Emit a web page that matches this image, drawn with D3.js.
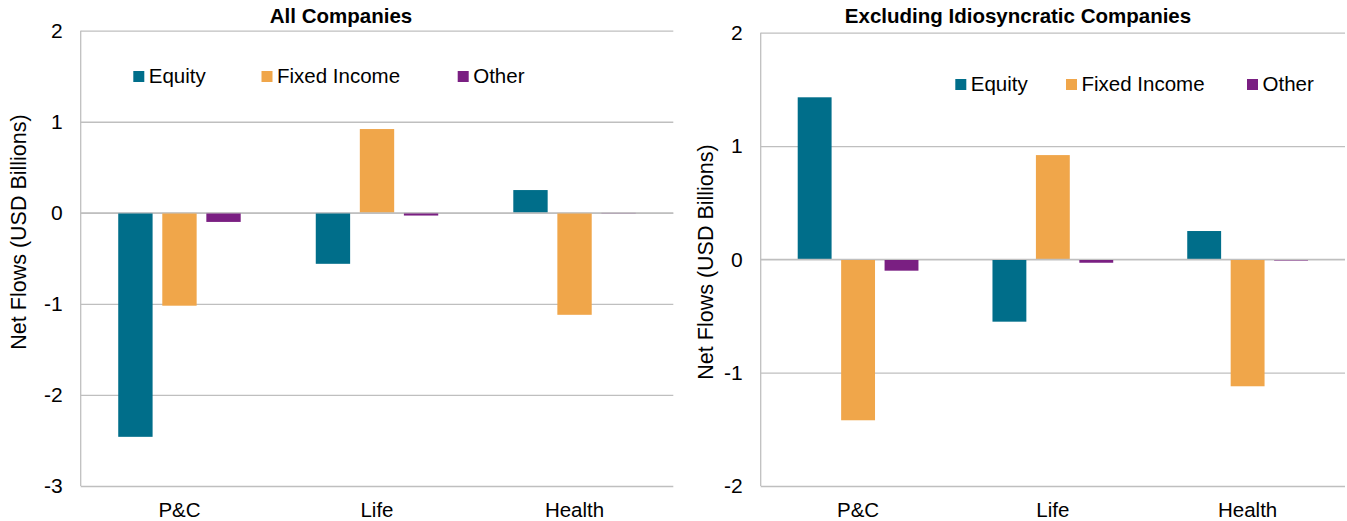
<!DOCTYPE html>
<html>
<head>
<meta charset="utf-8">
<script src="https://cdn.jsdelivr.net/npm/d3@7"></script>
<style>
  html, body { margin: 0; padding: 0; background: #ffffff; }
  svg { display: block; }
  text { font-family: "Liberation Sans", Arial, sans-serif; fill: #000; }
</style>
</head>
<body>
<svg id="chart" width="1347" height="521"></svg>
<script>
// ---- Data ----
const categories = ["P&C", "Life", "Health"];
const seriesNames = ["Equity", "Fixed Income", "Other"];
const seriesColors = ["#006E8A", "#F0A64A", "#7A1F82"];

const allEquity = [-2.46, -0.56, 0.25];
const allFixedIncome = [-1.02, 0.92, -1.12];
const allOther = [-0.10, -0.03, -0.005];

const exEquity = [1.43, -0.55, 0.25];
const exFixedIncome = [-1.42, 0.92, -1.12];
const exOther = [-0.10, -0.03, -0.01];

const leftTicks = [-3, -2, -1, 0, 1, 2];
const rightTicks = [-2, -1, 0, 1, 2];

const leftTitle = "All Companies";
const rightTitle = "Excluding Idiosyncratic Companies";
const yAxisTitle = "Net Flows (USD Billions)";

// ---- Layout ----
const panels = [
  {
    title: leftTitle, titleX: 341, series: [allEquity, allFixedIncome, allOther],
    ticks: leftTicks, x0: 80.7, x1: 673.3, yTop: 30.7, yBot: 486,
    legendX: [133.3, 261.5, 457.7], legendY: 71, yTitleX: 26, yTitleY: 232
  },
  {
    title: rightTitle, titleX: 1018, series: [exEquity, exFixedIncome, exOther],
    ticks: rightTicks, x0: 760.7, x1: 1345, yTop: 32.7, yBot: 486,
    legendX: [955.3, 1066, 1247], legendY: 79, yTitleX: 713, yTitleY: 262
  }
];

const svg = d3.select("#chart");
const gridColor = "#BFBFBF";
const fontFam = '"Liberation Sans", Arial, sans-serif';

panels.forEach(p => {
  const g = svg.append("g");
  const y = d3.scaleLinear()
    .domain([d3.min(p.ticks), d3.max(p.ticks)])
    .range([p.yBot, p.yTop]);
  const x0 = d3.scaleBand().domain(categories).range([p.x0, p.x1])
    .paddingInner(0.38).paddingOuter(0.19);
  const x1 = d3.scaleBand().domain(seriesNames).range([0, x0.bandwidth()])
    .paddingInner(0.22).paddingOuter(0);

  // gridlines
  g.append("g")
    .attr("transform", `translate(${p.x0},0)`)
    .call(d3.axisLeft(y).tickValues(p.ticks).tickSize(-(p.x1 - p.x0)).tickFormat(""))
    .call(a => a.select(".domain").remove())
    .call(a => a.selectAll("line").attr("stroke", gridColor).attr("stroke-width", 1.3));

  // tick labels
  g.append("g")
    .attr("transform", `translate(${p.x0},0)`)
    .call(d3.axisLeft(y).tickValues(p.ticks).tickSize(0).tickPadding(18).tickFormat(d => String(d)))
    .call(a => a.select(".domain").remove())
    .call(a => a.selectAll("text")
      .attr("font-size", 21)
      .attr("font-family", fontFam)
      .attr("fill", "#000"));

  // y axis line
  g.append("line")
    .attr("x1", p.x0).attr("x2", p.x0)
    .attr("y1", p.yTop).attr("y2", p.yBot)
    .attr("stroke", gridColor).attr("stroke-width", 1.3);

  // bars
  seriesNames.forEach((s, si) => {
    g.append("g").selectAll("rect")
      .data(categories.map((c, ci) => ({ c, v: p.series[si][ci] })))
      .join("rect")
      .attr("x", d => x0(d.c) + x1(s))
      .attr("width", x1.bandwidth())
      .attr("y", d => y(Math.max(0, d.v)))
      .attr("height", d => Math.abs(y(d.v) - y(0)))
      .attr("fill", seriesColors[si]);
  });

  // zero line on top
  g.append("line")
    .attr("x1", p.x0).attr("x2", p.x1)
    .attr("y1", y(0)).attr("y2", y(0))
    .attr("stroke", gridColor).attr("stroke-width", 1.3);

  // category labels
  g.append("g")
    .attr("transform", `translate(0,${p.yBot})`)
    .call(d3.axisBottom(x0).tickSize(0).tickPadding(16))
    .call(a => a.select(".domain").remove())
    .call(a => a.selectAll("text")
      .attr("font-size", 20.5)
      .attr("font-family", fontFam)
      .attr("fill", "#000"));

  // title
  g.append("text")
    .attr("x", p.titleX).attr("y", 23)
    .attr("text-anchor", "middle")
    .attr("font-weight", "bold")
    .attr("font-size", 20.5)
    .text(p.title);

  // y-axis title
  g.append("text")
    .attr("transform", `translate(${p.yTitleX},${p.yTitleY}) rotate(-90)`)
    .attr("text-anchor", "middle")
    .attr("font-size", 21.5)
    .text(yAxisTitle);

  // legend
  const lg = g.append("g");
  seriesNames.forEach((s, si) => {
    lg.append("rect")
      .attr("x", p.legendX[si]).attr("y", p.legendY)
      .attr("width", 11).attr("height", 11)
      .attr("fill", seriesColors[si]);
    lg.append("text")
      .attr("x", p.legendX[si] + 15.5).attr("y", p.legendY + 12)
      .attr("font-size", 20.5)
      .text(s);
  });
});
</script>
</body>
</html>
